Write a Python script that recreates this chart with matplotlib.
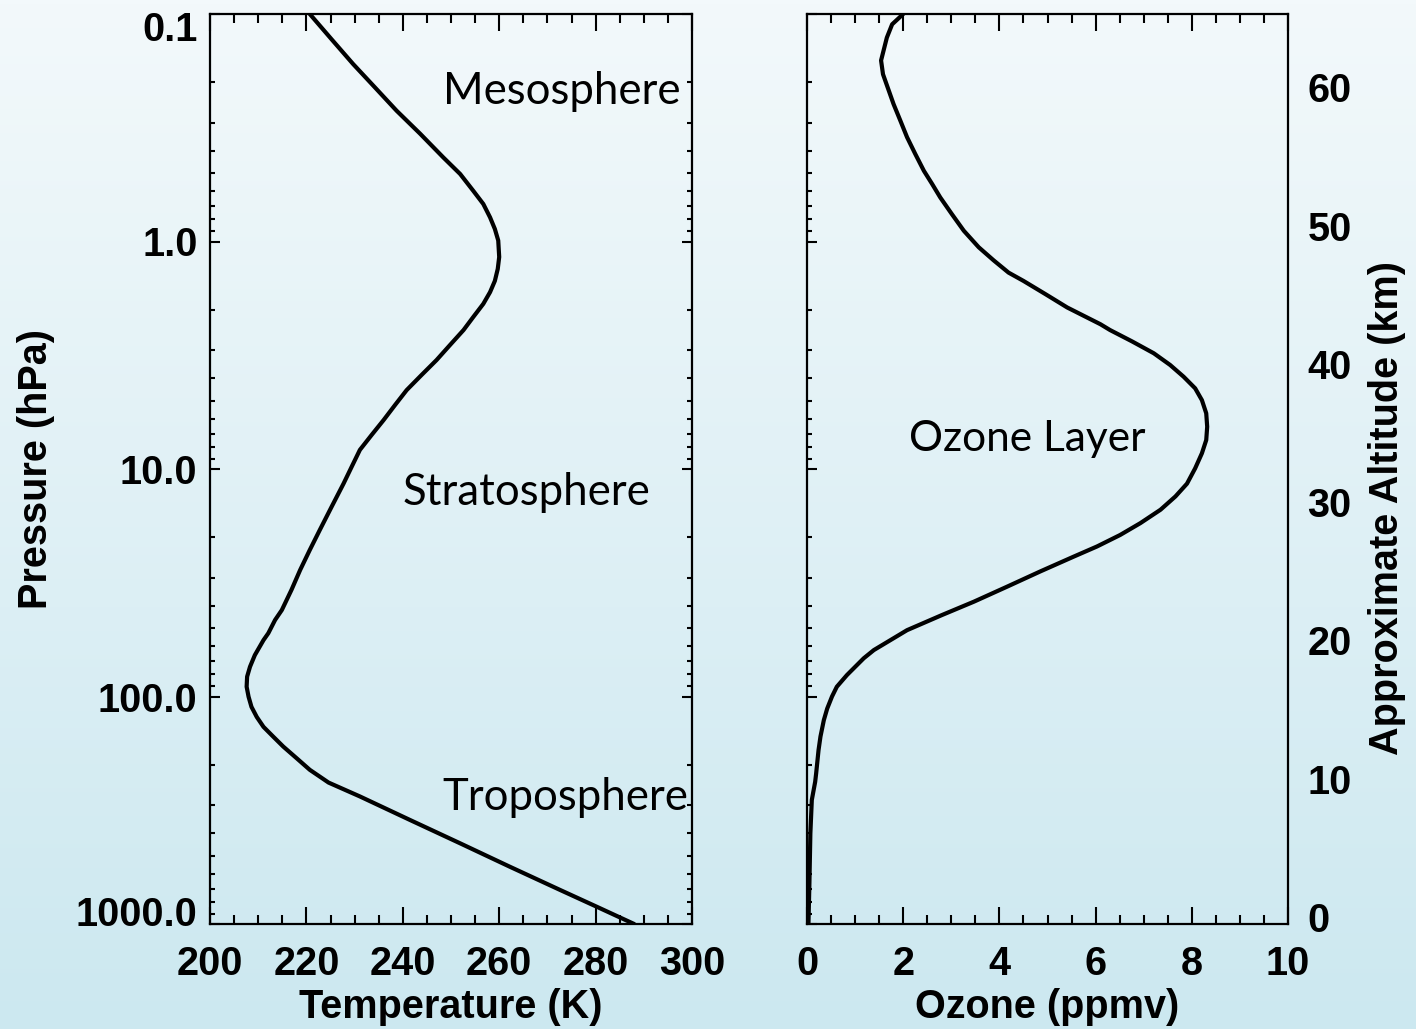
import numpy as np
import matplotlib
matplotlib.use("Agg")
import matplotlib.pyplot as plt
from matplotlib.ticker import LogLocator, NullFormatter, MultipleLocator
from matplotlib.transforms import ScaledTranslation

# Temperature profile (pressure in hPa, temperature in K)
temp_pressure = [0.100, 0.129, 0.166, 0.210, 0.266, 0.336, 0.427, 0.505, 0.598, 0.684,
                 0.783, 0.881, 0.99, 1.17, 1.32, 1.49, 1.67, 1.88, 2.15, 2.45,
                 2.85, 3.32, 3.86, 4.50, 5.23, 6.10, 7.10, 8.24, 9.77, 11.6,
                 14.7, 18.5, 22.7, 27.8, 34.0, 41.7, 46.1, 52.7, 56.5, 65.8,
                 74.0, 81.8, 90.6, 100.2, 111, 123, 136, 150, 166, 187,
                 210, 239, 275, 349, 442, 560, 708, 839, 1000]
temperature = [220.7, 225.2, 229.7, 234.2, 238.7, 243.6, 248.4, 251.9, 254.6, 256.7,
               258.1, 259.1, 259.8, 260.0, 259.7, 259.1, 258.1, 256.7, 254.6, 252.6,
               249.8, 247.0, 243.9, 240.8, 238.4, 236.0, 233.5, 231.1, 229.4, 227.7,
               225.2, 222.8, 220.7, 218.7, 216.9, 214.9, 213.5, 212.1, 211.1, 209.3,
               208.3, 207.7, 207.6, 208.0, 208.6, 209.7, 211.1, 213.1, 215.2, 218.0,
               220.7, 224.6, 231.1, 241.5, 251.9, 262.2, 272.6, 280.2, 288.0]

# Ozone profile (pressure in hPa, mixing ratio in ppmv)
ozone_pressure = [0.100, 0.111, 0.127, 0.160, 0.184, 0.217, 0.249, 0.294, 0.348, 0.412,
                  0.489, 0.558, 0.640, 0.757, 0.897, 1.06, 1.21, 1.37, 1.49, 1.70,
                  1.95, 2.31, 2.45, 2.75, 3.10, 3.49, 3.93, 4.42, 4.98, 5.69,
                  6.52, 7.46, 8.53, 9.93, 11.6, 13.2, 15.1, 17.3, 19.5, 21.9,
                  24.3, 28.2, 32.9, 38.3, 43.9, 51.1, 62.5, 67.9, 80.5, 90.6,
                  100, 113, 127, 150, 172, 218, 237, 285, 400, 664, 1000]
ozone = [2.00, 1.77, 1.66, 1.54, 1.58, 1.70, 1.80, 1.94, 2.08, 2.25,
         2.43, 2.60, 2.77, 3.01, 3.26, 3.57, 3.88, 4.19, 4.50, 4.95,
         5.41, 6.10, 6.30, 6.76, 7.21, 7.55, 7.83, 8.07, 8.21, 8.30,
         8.32, 8.30, 8.21, 8.07, 7.90, 7.66, 7.35, 6.93, 6.51, 6.03,
         5.54, 4.85, 4.16, 3.47, 2.80, 2.08, 1.39, 1.18, 0.83, 0.62,
         0.52, 0.42, 0.35, 0.28, 0.24, 0.19, 0.17, 0.10, 0.07, 0.05, 0.03]

pressure_ticks = [0.1, 1, 10, 100, 1000]
pressure_labels = ["0.1", "1.0", "10.0", "100.0", "1000.0"]
temp_ticks = [200, 220, 240, 260, 280, 300]
ozone_ticks = [0, 2, 4, 6, 8, 10]
altitude_ticks = [0, 10, 20, 30, 40, 50, 60]

BOLD = dict(family="Liberation Sans", weight="bold", size=28.5)
NOTE = dict(family="Lato", size=31.5)

fig = plt.figure(figsize=(14.16, 10.29), dpi=100)

# soft vertical background gradient
bg = fig.add_axes([0, 0, 1, 1], zorder=-10)
top = np.array([243, 249, 251]) / 255.0
bottom = np.array([204, 232, 240]) / 255.0
t = np.linspace(0, 1, 256)[:, None]
grad = (top[None, :] * (1 - t) + bottom[None, :] * t)[:, None, :]
bg.imshow(grad, aspect="auto", extent=[0, 1, 0, 1])
bg.axis("off")

W, H = 1416.0, 1029.0
ax1 = fig.add_axes([210 / W, 1 - 924 / H, 482 / W, 910 / H])
ax2 = fig.add_axes([807 / W, 1 - 924 / H, 481 / W, 910 / H])


def style_axes(ax, xminor):
    ax.set_facecolor("none")
    ax.set_yscale("log")
    ax.set_ylim(1000, 0.1)
    ax.set_yticks(pressure_ticks)
    ax.yaxis.set_minor_locator(LogLocator(base=10, subs=np.arange(2, 10)))
    ax.yaxis.set_minor_formatter(NullFormatter())
    ax.xaxis.set_minor_locator(MultipleLocator(xminor))
    ax.tick_params(which="both", direction="in", top=True, right=True, width=1.5,
                   color="black")
    ax.tick_params(axis="x", which="major", length=12, pad=15)
    ax.tick_params(axis="x", which="minor", length=6.5)
    ax.tick_params(axis="y", which="major", length=7, pad=9)
    ax.tick_params(axis="y", which="minor", length=3.5)
    for s in ax.spines.values():
        s.set_linewidth(1.6)


# Temperature panel
style_axes(ax1, 5)
ax1.plot(temperature, temp_pressure, color="black", lw=3.0,
         solid_joinstyle="round", solid_capstyle="round")
ax1.set_xlim(200, 300)
ax1.set_xticks(temp_ticks)
ax1.set_xticklabels([str(v) for v in temp_ticks], fontdict=BOLD)
ax1.set_yticklabels(pressure_labels, fontdict=BOLD)
ax1.set_xlabel("Temperature (K)", fontdict=BOLD, labelpad=4)
ax1.set_ylabel("Pressure (hPa)", fontdict=BOLD, labelpad=15)
ax1.text(248.3, 0.249, "Mesosphere", **NOTE)
ax1.text(240.0, 14.4, "Stratosphere", **NOTE)
ax1.text(248.3, 315, "Troposphere", **NOTE)

# keep the end pressure labels inside the frame height
ylabels = ax1.get_yticklabels()
ylabels[0].set_transform(ylabels[0].get_transform() +
                         ScaledTranslation(0, -0.12, fig.dpi_scale_trans))
ylabels[-1].set_transform(ylabels[-1].get_transform() +
                          ScaledTranslation(0, 0.13, fig.dpi_scale_trans))

# Ozone panel
style_axes(ax2, 0.5)
ax2.plot(ozone, ozone_pressure, color="black", lw=3.0,
         solid_joinstyle="round", solid_capstyle="round")
ax2.set_xlim(0, 10)
ax2.set_xticks(ozone_ticks)
ax2.set_xticklabels([str(v) for v in ozone_ticks], fontdict=BOLD)
ax2.tick_params(axis="y", labelleft=False)
ax2.set_xlabel("Ozone (ppmv)", fontdict=BOLD, labelpad=4)
ax2.text(2.12, 8.34, "Ozone Layer", family="Lato", size=30.5)

# approximate altitude scale on the right
alt = ax2.twinx()
alt.set_facecolor("none")
alt.set_ylim(-0.5, 65.3)
alt.set_yticks(altitude_ticks)
alt.set_yticklabels([str(v) for v in altitude_ticks], fontdict=BOLD)
alt.tick_params(axis="y", length=0, pad=14)
alt.set_ylabel("Approximate Altitude (km)", fontdict=BOLD)
alt.yaxis.set_label_coords(1.166, 0.457)
for s in alt.spines.values():
    s.set_visible(False)

fig.savefig("out.png", dpi=100)
